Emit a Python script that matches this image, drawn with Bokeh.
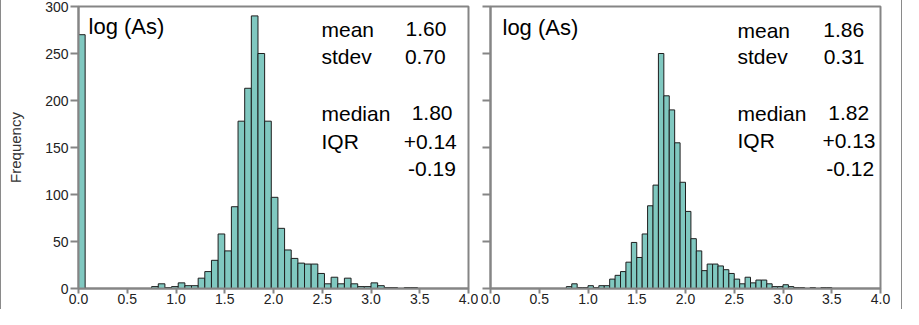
from bokeh.plotting import figure
from bokeh.models import FixedTicker, PrintfTickFormatter, Label, CustomJSTickFormatter, Spacer, Range1d
from bokeh.layouts import row
from bokeh.embed import file_html
from bokeh.resources import INLINE

# ---------------- data ----------------
x_ticks = [0.0, 0.5, 1.0, 1.5, 2.0, 2.5, 3.0, 3.5, 4.0]
y_ticks = [0, 50, 100, 150, 200, 250, 300]

# left histogram: bins of width 1.5/22 starting at 0.0
left_bin_width = 1.5 / 22
left_counts = [270, 0, 0, 0, 0, 0, 0, 0, 0, 0, 0,
               2, 5, 1, 2, 6, 3, 3, 11, 18, 30, 58,
               40, 87, 178, 213, 290, 250, 178, 97, 64, 41, 32, 27, 26, 26, 16,
               5, 12, 5, 11, 5, 2, 2, 6, 3, 1, 1, 0, 1, 1]

# right histogram: bins of width 1/18, first listed bin starts at 14/18
right_bin_width = 1.0 / 18
right_first_bin = 14
right_counts = [2, 5, 1, 1, 3, 1, 3, 3, 10, 14, 18, 28, 49,
                33, 58, 88, 110, 250, 205, 190, 155, 113, 82, 53, 40, 19, 26, 26, 24,
                20, 16, 10, 5, 12, 6, 9, 9, 5, 2, 2, 4, 2, 1, 1, 0, 1, 0, 1, 1]

panel_title = "log (As)"
left_stats = [("mean", "1.60"), ("stdev", "0.70"), ("median", "1.80"), ("IQR", "+0.14"), ("", "-0.19")]
right_stats = [("mean", "1.86"), ("stdev", "0.31"), ("median", "1.82"), ("IQR", "+0.13"), ("", "-0.12")]

FONT = "Liberation Sans"
GRAY = "#858585"
FILL = "#80c8c0"


def make_panel(bin_width, first_bin, counts, stats, show_ylabels, width, mbl, mbr,
               title_xy, name_x, rows_y, value_right):
    p = figure(width=width, height=309, output_backend="svg", toolbar_location=None,
               x_range=Range1d(0, 4), y_range=Range1d(0, 300),
               min_border_left=mbl, min_border_right=mbr, min_border_top=6, min_border_bottom=21)
    lefts, rights, tops = [], [], []
    for i, c in enumerate(counts):
        if c <= 0:
            continue
        lefts.append((first_bin + i) * bin_width)
        rights.append((first_bin + i + 1) * bin_width)
        tops.append(c)
    p.quad(left=lefts, right=rights, bottom=0, top=tops, fill_color=FILL,
           line_color="#1e1e1e", line_width=1)

    p.xgrid.visible = False
    p.ygrid.visible = False
    p.outline_line_color = GRAY
    p.outline_line_width = 2
    p.background_fill_color = "white"
    p.border_fill_color = "white"

    for ax in (p.xaxis[0], p.yaxis[0]):
        ax.axis_line_color = GRAY
        ax.axis_line_width = 2
        ax.major_tick_line_color = GRAY
        ax.major_tick_line_width = 2
        ax.major_tick_in = 0
        ax.minor_tick_line_color = None
        ax.major_label_text_font = FONT
        ax.major_label_text_font_size = "14px"
        ax.major_label_text_color = "#222222"

    p.xaxis.ticker = FixedTicker(ticks=x_ticks)
    p.xaxis.formatter = PrintfTickFormatter(format="%.1f")
    p.xaxis.major_tick_out = 5
    p.xaxis.major_label_standoff = 0

    p.yaxis.ticker = FixedTicker(ticks=y_ticks)
    p.yaxis.major_tick_out = 8
    p.yaxis.major_label_standoff = 2
    if show_ylabels:
        p.yaxis.axis_label = "Frequency"
        p.yaxis.axis_label_text_font = FONT
        p.yaxis.axis_label_text_font_size = "15px"
        p.yaxis.axis_label_text_font_style = "normal"
        p.yaxis.axis_label_text_color = "#333333"
        p.yaxis.axis_label_standoff = 18
    else:
        p.yaxis.formatter = CustomJSTickFormatter(code="return ''")

    p.add_layout(Label(x=title_xy[0], y=title_xy[1], text=panel_title, text_font=FONT,
                       text_font_size="22px", text_color="black", text_baseline="alphabetic"))
    for (name, val), yy, vx in zip(stats, rows_y, value_right):
        if name:
            p.add_layout(Label(x=name_x, y=yy, text=name, text_font=FONT,
                               text_font_size="21px", text_color="black", text_baseline="alphabetic"))
        p.add_layout(Label(x=vx, y=yy, text=val, text_font=FONT, text_align="right",
                           text_font_size="21px", text_color="black", text_baseline="alphabetic"))
    return p


p1 = make_panel(left_bin_width, 0, left_counts, left_stats, True, 477, 77, 10,
                (0.103, 278.5), 2.492, [275.8, 246.6, 186.4, 156.2, 126.8],
                [3.774, 3.767, 3.836, 3.880, 3.870])
p2 = make_panel(right_bin_width, right_first_bin, right_counts, right_stats, False, 423, 12, 21,
                (0.123, 278.0), 2.533, [275.0, 246.6, 186.7, 157.0, 127.1],
                [3.833, 3.836, 3.884, 3.949, 3.935])

edge_l = Spacer(width=1, height=309, styles={"background-color": "#8a8a8a"})
edge_r = Spacer(width=1, height=309, styles={"background-color": "#8a8a8a"})
layout = row(edge_l, p1, p2, edge_r)

open("out.html", "w").write(file_html(layout, INLINE))
